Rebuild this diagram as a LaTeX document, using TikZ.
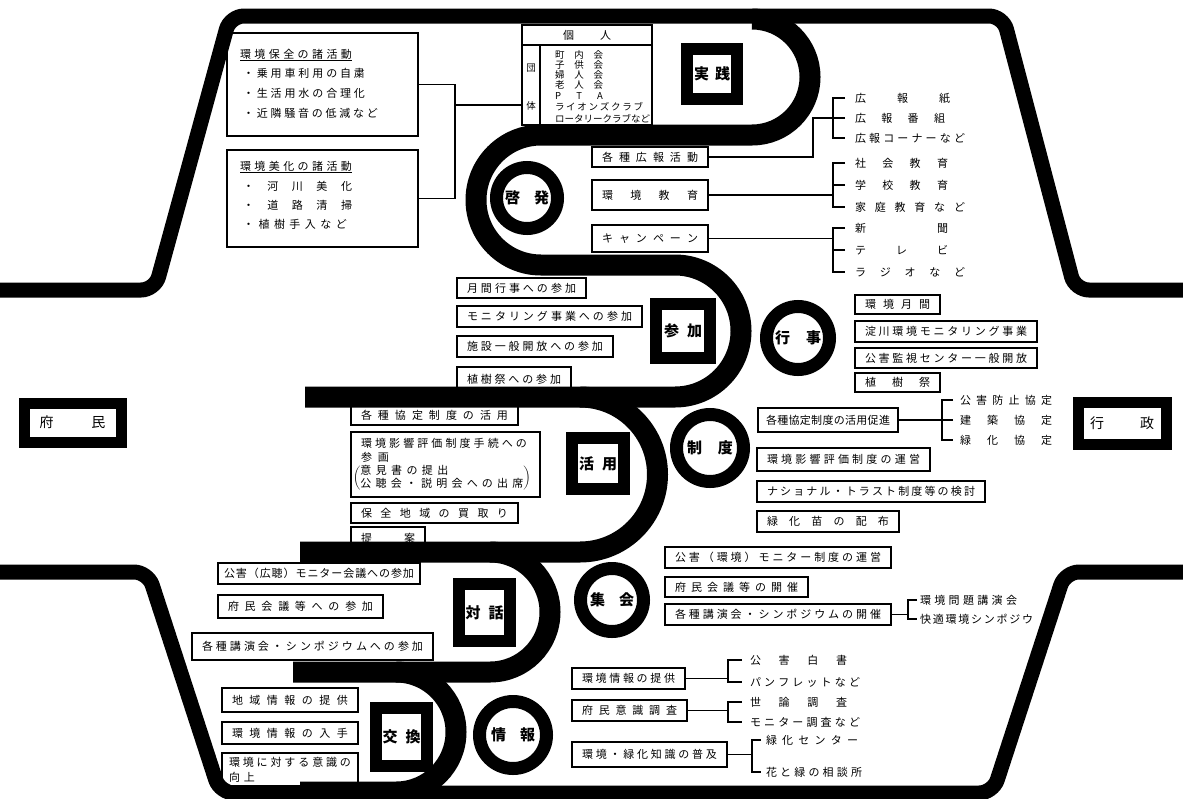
\documentclass[tikz,border=0pt]{standalone}
\usepackage{fontspec}
\setmainfont{Noto Sans CJK JP}
\usetikzlibrary{calc}
\makeatletter
\newcommand\spr[2]{\hbox to #1{\spr@a#2\@nil}}
\def\spr@a#1#2\@nil{#1\ifx\relax#2\relax\else\hfill\spr@a#2\@nil\fi}
\makeatother
\newcommand\fs{\fontsize{11}{13}\selectfont}
\newcommand\fsm{\fontsize{9.5}{11}\selectfont}
\newcommand\lab{\fontsize{15}{17}\selectfont\bfseries}
\tikzset{
  every node/.style={inner sep=0pt, outer sep=0pt},
  tb/.style={draw, line width=1.2pt, font=\fs},
  txt/.style={font=\fs, anchor=west},
  sml/.style={font=\fsm, anchor=west},
  item/.style={font=\fs, anchor=west},
  conn/.style={line width=1.2pt},
  frm/.style={line width=15pt, rounded corners=14pt},
  snk/.style={line width=21pt},
  sq/.style={draw, line width=12pt, font=\lab},
  ring/.style={draw, circle, line width=13pt, font=\lab},
  bigbox/.style={draw, line width=11pt, font=\fontsize{14}{16}\selectfont},
}
\newcommand\tbox[7][10]{%
  \node[tb, minimum width={(#5-#3)*1pt}, minimum height={(#6-#4)*1pt}] (#2) at ({(#3+#5)/2},{(#4+#6)/2}) {\spr{\dimexpr #5pt-#3pt-#1pt-#1pt\relax}{#7}};}
\begin{document}
\begin{tikzpicture}[x=1pt,y=-1pt]
\clip (0,0) rectangle (1183,798);
\fill[white] (0,0) rectangle (1183,798);

% ---------- left top boxes
\node[tb, minimum width=191pt, minimum height=103pt] (hozen) at (322.5,84.5) {};
\node[txt] (hozenH) at (240,55) {\underline{\spr{112pt}{環境保全の諸活動}}};
\node[txt] (hozen1) at (243,73) {\spr{122pt}{・乗用車利用の自粛}};
\node[txt] (hozen2) at (243,93) {\spr{122pt}{・生活用水の合理化}};
\node[txt] (hozen3) at (243,113) {\spr{135pt}{・近隣騒音の低減など}};
\node[tb, minimum width=191pt, minimum height=97pt] (bika) at (322.5,198.5) {};
\node[txt] (bikaH) at (240,167) {\underline{\spr{112pt}{環境美化の諸活動}}};
\node[txt] (bika1) at (243,186) {\spr{109pt}{・河川美化}};
\node[txt] (bika2) at (243,205) {\spr{109pt}{・道路清掃}};
\node[txt] (bika3) at (243,224) {\spr{104pt}{・植樹手入など}};

% ---------- kojin / dantai table
\node[tb, minimum width=130pt, minimum height=20pt] (kojin) at (587,35) {\spr{48pt}{個人}};
\node[tb, minimum width=18pt, minimum height=80pt] (dan) at (531,85) {};
\node[tb, minimum width=112pt, minimum height=80pt] (dantai) at (596,85) {};
\node[font=\fsm] (dan1) at (531,68) {団};
\node[font=\fsm] (dan2) at (531,106) {体};
\node[sml] (m1) at (555,55) {\spr{48pt}{町内会}};
\node[sml] (m2) at (555,65) {\spr{48pt}{子供会}};
\node[sml] (m3) at (555,75) {\spr{48pt}{婦人会}};
\node[sml] (m4) at (555,85) {\spr{48pt}{老人会}};
\node[sml] (m5) at (555,96) {\spr{48pt}{PTA}};
\node[sml] (m6) at (555,107) {\spr{88pt}{ライオンズクラブ}};
\node[sml] (m7) at (555,119) {\spr{92pt}{ロータリークラブなど}};
\coordinate (j1) at (455,105);
\draw[conn] (hozen.east) -| (j1);
\draw[conn] (bika.east) -| (j1);
\draw[conn] (j1) -- (j1 -| dan.west);

% ---------- keihatsu group
\tbox{koho}{592}{147}{708}{167}{各種広報活動}
\tbox{kyoiku}{592}{180}{708}{210}{環境教育}
\tbox{camp}{592}{225}{708}{252}{キャンペーン}
\node[item, inner xsep=10pt] (k1) at (845,98) {\spr{95pt}{広報紙}};
\node[item, inner xsep=10pt] (k2) at (845,118) {\spr{90pt}{広報番組}};
\node[item, inner xsep=10pt] (k3) at (845,138) {\spr{110pt}{広報コーナーなど}};
\node[item, inner xsep=10pt] (e1) at (845,163) {\spr{93pt}{社会教育}};
\node[item, inner xsep=10pt] (e2) at (845,185) {\spr{93pt}{学校教育}};
\node[item, inner xsep=10pt] (e3) at (845,207) {\spr{110pt}{家庭教育など}};
\node[item, inner xsep=10pt] (c1) at (845,228) {\spr{93pt}{新聞}};
\node[item, inner xsep=10pt] (c2) at (845,250) {\spr{93pt}{テレビ}};
\node[item, inner xsep=10pt] (c3) at (845,272) {\spr{110pt}{ラジオなど}};
\coordinate (kv) at (833,118);
\coordinate (kj) at (813,118);
\draw[conn] (k1.west) -| (kv) |- (k3.west);
\draw[conn] (k2.west) -- (kv);
\draw[conn] (koho.east) -| (kj) -- (kv);
\coordinate (ev) at (833,185);
\draw[conn] (e1.west) -| (ev) |- (e3.west);
\draw[conn] (e2.west) -- (ev);
\draw[conn] (kyoiku.east) -- (kyoiku.east -| ev);
\coordinate (cv) at (833,250);
\draw[conn] (c1.west) -| (cv) |- (c3.west);
\draw[conn] (c2.west) -- (cv);
\draw[conn] (camp.east) -- (camp.east -| cv);

% ---------- sanka group
\tbox{gekkan}{457}{278}{586}{298}{月間行事への参加}
\tbox{moni}{457}{306}{642}{327}{モニタリング事業への参加}
\tbox{shisetsu}{457}{336}{613}{357}{施設一般開放への参加}
\tbox{shoku}{457}{367}{571}{392}{植樹祭への参加}
\tbox{kgetsu}{855}{295}{940}{314}{環境月間}
\tbox{yodo}{855}{321}{1037}{342}{淀川環境モニタリング事業}
\tbox{kanshi}{855}{348}{1037}{368}{公害監視センター一般開放}
\tbox{shokusai}{855}{373}{940}{392}{植樹祭}

% ---------- katsuyo group
\tbox[8]{kyotei}{758}{408}{898}{432}{各種協定制度の活用促進}
\node[item, inner xsep=7pt] (p1) at (953,400) {\spr{92pt}{公害防止協定}};
\node[item, inner xsep=7pt] (p2) at (953,420) {\spr{92pt}{建築協定}};
\node[item, inner xsep=7pt] (p3) at (953,440) {\spr{92pt}{緑化協定}};
\coordinate (pv) at (942,420);
\draw[conn] (p1.west) -| (pv) |- (p3.west);
\draw[conn] (p2.west) -- (pv);
\draw[conn] (kyotei.east) -- (pv);
\tbox{katsuyo}{351}{405}{518}{425}{各種協定制度の活用}
\node[tb, minimum width=189pt, minimum height=65pt] (eikyo) at (445.5,464.5) {};
\node[txt] (eikyo1) at (361,443) {\spr{166pt}{環境影響評価制度手続への}};
\node[txt] (eikyo2) at (361,457) {\spr{28pt}{参画}};
\node[txt] (eikyo3) at (353,478.5) {$\left(\begin{tabular}{@{}l@{}}\spr{88pt}{意見書の提出}\\\spr{163pt}{公聴会・説明会への出席}\end{tabular}\right)$};
\tbox{kaitori}{351}{503}{518}{523}{保全地域の買取り}
\tbox{teian}{351}{527}{425}{550}{提案}
\tbox{unei}{757}{448}{930}{471}{環境影響評価制度の運営}
\tbox{trust}{757}{481}{985}{502}{ナショナル・トラスト制度等の検討}
\tbox{nae}{757}{511}{899}{532}{緑化苗の配布}

% ---------- taiwa / shukai group
\tbox{monitor}{665}{547}{891}{568}{公害（環境）モニター制度の運営}
\tbox{kaigi}{665}{577}{808}{597}{府民会議等の開催}
\tbox{koen}{665}{604}{891}{625}{各種講演会・シンポジウムの開催}
\node[item, inner xsep=3pt] (s1) at (917,600) {\spr{97pt}{環境問題講演会}};
\node[item, inner xsep=3pt] (s2) at (917,619) {\spr{113pt}{快適環境シンポジウ}};
\coordinate (sv) at (908,609.5);
\draw[conn] (s1.west) -| (sv) |- (s2.west);
\draw[conn] (koen.east) -- (koen.east -| sv);
\tbox[6]{kogai}{218}{563}{420}{584}{公害（広聴）モニター会議への参加}
\tbox{fuminkaigi}{218}{595}{383}{618}{府民会議等への参加}
\tbox{koenkai}{192}{633}{433}{660}{各種講演会・シンポジウムへの参加}

% ---------- kokan / joho group
\tbox{chiiki}{222}{688}{358}{712}{地域情報の提供}
\tbox{nyushu}{222}{722}{358}{744}{環境情報の入手}
\node[tb, minimum width=136pt, minimum height=33pt] (kojo) at (290,769.5) {};
\node[txt] (kojo1) at (229,762) {\spr{122pt}{環境に対する意識の}};
\node[txt] (kojo2) at (229,777) {\spr{26pt}{向上}};
\tbox{teikyo}{572}{668}{685}{689}{環境情報の提供}
\tbox{ishiki}{572}{700}{687}{721}{府民意識調査}
\tbox{fukyu}{572}{742}{727}{767}{環境・緑化知識の普及}
\node[item, inner xsep=8pt] (h1) at (742,660) {\spr{97pt}{公害白書}};
\node[item, inner xsep=8pt] (h2) at (742,682) {\spr{110pt}{パンフレットなど}};
\coordinate (hv) at (728,671);
\draw[conn] (h1.west) -| (hv) |- (h2.west);
\draw[conn] (teikyo.east) -- (teikyo.east -| hv);
\node[item, inner xsep=8pt] (i1) at (742,702) {\spr{97pt}{世論調査}};
\node[item, inner xsep=8pt] (i2) at (742,722) {\spr{110pt}{モニター調査など}};
\coordinate (iv) at (728,712);
\draw[conn] (i1.west) -| (iv) |- (i2.west);
\draw[conn] (ishiki.east) -- (ishiki.east -| iv);
\node[item, inner xsep=5pt] (f1) at (761,740) {\spr{92pt}{緑化センター}};
\node[item, inner xsep=5pt] (f2) at (761,772) {\spr{96pt}{花と緑の相談所}};
\coordinate (fv) at (752,756);
\draw[conn] (f1.west) -| (fv) |- (f2.west);
\draw[conn] (fukyu.east) -- (fukyu.east -| fv);

% ---------- frame
\draw[frm] (-10,290) -- (155,290) -- (230,16) -- (1003,16) -- (1075,290) -- (1193,290);
\draw[frm] (-10,572) -- (148,572) -- (220,793) -- (993,793) -- (1065,572) -- (1193,572);

% ---------- snake
\draw[snk] (752,19) arc[start angle=-90,end angle=90,radius=58]
  -- (541,135) arc[start angle=270,end angle=90,radius=65]
  -- (675,265) arc[start angle=-90,end angle=90,radius=66] -- (305,397);
\draw[snk] (580,397) arc[start angle=-90,end angle=90,radius=77.5] -- (300,552);
\draw[snk] (490,552) arc[start angle=-90,end angle=90,radius=60] -- (293,672);
\draw[snk] (396,672) arc[start angle=-90,end angle=90,radius=60] -- (300,792);

% ---------- squares and rings
\node[sq, minimum width=50pt, minimum height=50pt] (jissen) at (712,74) {\spr{36pt}{実践}};
\node[sq, minimum width=54pt, minimum height=54pt] (sanka) at (683,331) {\spr{38pt}{参加}};
\node[sq, minimum width=52pt, minimum height=51pt] (katsu) at (598,463.5) {\spr{38pt}{活用}};
\node[sq, minimum width=51pt, minimum height=57pt] (taiwa) at (484.5,612.5) {\spr{38pt}{対話}};
\node[sq, minimum width=51pt, minimum height=58pt] (kokan) at (401.5,737) {\spr{38pt}{交換}};
\node[ring, minimum size=61pt] (keihatsu) at (527,198) {\spr{44pt}{啓発}};
\node[ring, minimum size=63pt] (gyoji) at (798,338) {\spr{46pt}{行事}};
\node[ring, minimum size=67pt] (seido) at (710,448) {\spr{46pt}{制度}};
\node[ring, minimum size=63pt] (shukai) at (612,600) {\spr{44pt}{集会}};
\node[ring, minimum size=67pt] (joho) at (513,735) {\spr{44pt}{情報}};

% ---------- end boxes
\node[bigbox, minimum width=97pt, minimum height=39pt] (fumin) at (72.5,422.5) {\spr{66pt}{府民}};
\node[bigbox, minimum width=88pt, minimum height=42pt] (gyosei) at (1122,423) {\spr{64pt}{行政}};
\end{tikzpicture}
\end{document}
